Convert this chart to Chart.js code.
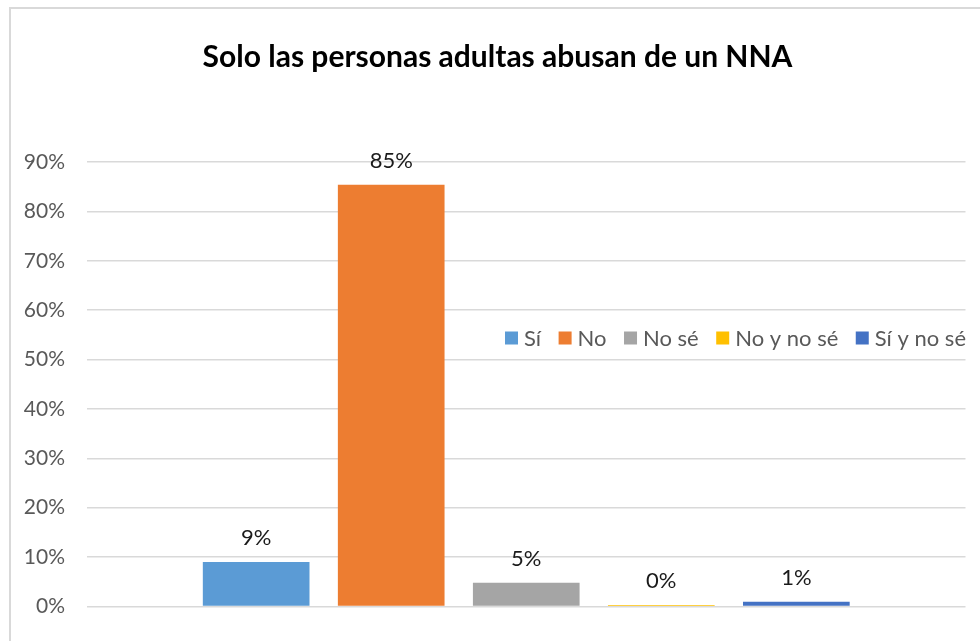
<!DOCTYPE html>
<html>
<head>
<meta charset="utf-8">
<script src="https://cdn.jsdelivr.net/npm/chart.js@4/dist/chart.umd.min.js"></script>
<style>
  html, body { margin: 0; padding: 0; background: #fff; overflow: hidden; }
  #frame { position: absolute; left: 9px; top: 7px; width: 1000px; height: 700px; border: 2px solid #d9d9d9; }
  #chart { position: absolute; left: 0; top: 0; }
</style>
</head>
<body>
<div id="frame"></div>
<canvas id="chart" width="980" height="641"></canvas>
<script>
// Datos
const chartTitle = 'Solo las personas adultas abusan de un NNA';
const seriesNames = ['Sí', 'No', 'No sé', 'No y no sé', 'Sí y no sé'];
const seriesValues = [0.09, 0.854, 0.048, 0.003, 0.0095];
const seriesColors = ['#5B9BD5', '#ED7D31', '#A5A5A5', '#FFC000', '#4472C4'];
const categories = [''];

const FONT = 'Lato, "Open Sans", sans-serif';

// Etiquetas de datos encima de cada barra
const dataLabels = {
    id: 'dataLabels',
    afterDatasetsDraw(chart) {
        const ctx = chart.ctx;
        ctx.save();
        ctx.font = '22px ' + FONT;
        ctx.fillStyle = '#1a1a1a';
        ctx.textAlign = 'center';
        ctx.textBaseline = 'alphabetic';
        chart.data.datasets.forEach((ds, i) => {
            const bar = chart.getDatasetMeta(i).data[0];
            ctx.fillText(Math.round(ds.data[0] * 100) + '%', bar.x, bar.y - 17);
        });
        ctx.restore();
    }
};

// Leyenda dentro del área del gráfico, como en Excel
const floatingLegend = {
    id: 'floatingLegend',
    afterDraw(chart) {
        const ctx = chart.ctx;
        const startX = 505, endX = 966, cy = 338, box = 13, textGap = 6;
        ctx.save();
        ctx.font = '22px ' + FONT;
        ctx.textBaseline = 'middle';
        const widths = chart.data.datasets.map(ds => box + textGap + ctx.measureText(ds.label).width);
        const total = widths.reduce((a, b) => a + b, 0);
        const gap = (endX - startX - total) / (widths.length - 1);
        let x = startX;
        chart.data.datasets.forEach((ds, i) => {
            ctx.fillStyle = ds.backgroundColor;
            ctx.fillRect(x, cy - box / 2, box, box);
            ctx.fillStyle = '#595959';
            ctx.fillText(ds.label, x + box + textGap, cy + 1);
            x += widths[i] + gap;
        });
        ctx.restore();
    }
};

const ctx = document.getElementById('chart').getContext('2d');
new Chart(ctx, {
    type: 'bar',
    data: {
        labels: categories,
        datasets: seriesNames.map((name, i) => ({
            label: name,
            data: [seriesValues[i]],
            backgroundColor: seriesColors[i],
            categoryPercentage: 0.7686,
            barPercentage: 0.79
        }))
    },
    options: {
        responsive: false,
        animation: false,
        layout: {
            padding: { left: 15, right: 0, top: 0, bottom: 32 }
        },
        plugins: {
            legend: { display: false },
            tooltip: { enabled: false },
            title: {
                display: true,
                text: chartTitle,
                color: '#000',
                font: { family: FONT, size: 30, weight: 'bold' },
                padding: { top: 39, bottom: 87 }
            }
        },
        scales: {
            x: {
                display: false
            },
            y: {
                min: 0,
                max: 0.9,
                afterFit(scale) { scale.width = 72; },
                border: { display: false },
                grid: { color: '#d9d9d9', lineWidth: 1.5, drawTicks: false },
                ticks: {
                    stepSize: 0.1,
                    padding: 22,
                    color: '#595959',
                    font: { family: FONT, size: 21 },
                    callback: v => Math.round(v * 100) + '%'
                }
            },
            // eje vacío a la derecha, solo para reservar el margen
            yRight: {
                position: 'right',
                afterFit(scale) { scale.width = 14.5; },
                border: { display: false },
                grid: { display: false },
                ticks: { display: false }
            }
        }
    },
    plugins: [dataLabels, floatingLegend]
});
</script>
</body>
</html>
